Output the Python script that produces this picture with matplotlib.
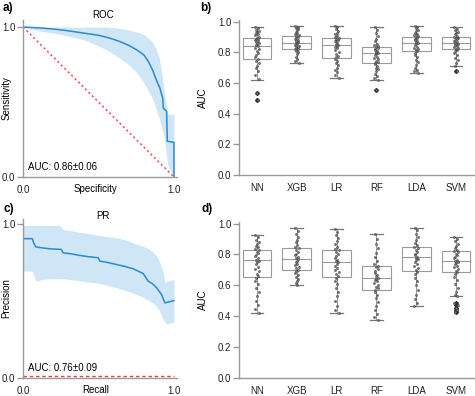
import matplotlib.pyplot as plt
import numpy as np

plt.rcParams['font.family'] = ['Liberation Sans', 'DejaVu Sans']
plt.rcParams['font.size'] = 7

# ---- ROC (panel a) ----
ROC_X = [0, 0.1, 0.2, 0.3, 0.4, 0.5, 0.55, 0.6, 0.65, 0.7, 0.75, 0.8, 0.83,
         0.86, 0.874, 0.89, 0.907, 0.915, 0.925, 0.929, 0.951, 0.956, 1.0, 1.0]
ROC_Y = [1.0, 0.995, 0.987, 0.975, 0.96, 0.945, 0.933, 0.918, 0.9, 0.878, 0.85,
         0.815, 0.771, 0.71, 0.671, 0.63, 0.593, 0.56, 0.53, 0.46, 0.438, 0.238,
         0.231, 0.0]
ROC_BAND_X = [0, 0.1, 0.2, 0.3, 0.4, 0.5, 0.55, 0.6, 0.65, 0.7, 0.75, 0.8, 0.85,
              0.88, 0.9, 0.915, 0.93, 0.945, 0.955, 0.962, 0.98, 1.0]
ROC_UPPER = [1.0, 1.0, 1.0, 1.0, 1.0, 1.0, 1.0, 0.997, 0.99, 0.98, 0.968, 0.95,
             0.91, 0.86, 0.80, 0.72, 0.62, 0.50, 0.44, 0.418, 0.418, 0.418]
ROC_LOWER = [1.0, 0.975, 0.96, 0.94, 0.916, 0.875, 0.85, 0.82, 0.785, 0.75, 0.70,
             0.63, 0.54, 0.46, 0.40, 0.34, 0.29, 0.19, 0.11, 0.07, 0.04, 0.0]
ROC_AUC = 'AUC: 0.86±0.06'

# ---- PR (panel c) ----
PR_X = [0, 0.062, 0.07, 0.084, 0.12, 0.177, 0.254, 0.265, 0.32, 0.376, 0.43,
        0.498, 0.509, 0.56, 0.619, 0.68, 0.73, 0.796, 0.83, 0.86, 0.885, 0.918,
        0.94, 1.0]
PR_Y = [0.907, 0.907, 0.88, 0.854, 0.848, 0.841, 0.837, 0.815, 0.808, 0.798,
        0.79, 0.783, 0.761, 0.752, 0.739, 0.725, 0.711, 0.680, 0.630, 0.612,
        0.587, 0.543, 0.489, 0.504]
PR_BAND_X = [0, 0.062, 0.084, 0.12, 0.177, 0.243, 0.265, 0.32, 0.398, 0.45,
             0.509, 0.56, 0.619, 0.68, 0.73, 0.78, 0.819, 0.86, 0.885, 0.91,
             0.929, 0.94, 0.951, 1.0]
PR_UPPER = [0.993, 0.993, 0.993, 0.993, 0.993, 0.993, 0.967, 0.958, 0.946, 0.938,
            0.928, 0.92, 0.913, 0.898, 0.88, 0.862, 0.848, 0.822, 0.793, 0.745,
            0.685, 0.624, 0.628, 0.641]
PR_LOWER = [0.696, 0.696, 0.63, 0.64, 0.646, 0.646, 0.646, 0.64, 0.63, 0.622,
            0.615, 0.602, 0.587, 0.57, 0.554, 0.532, 0.511, 0.488, 0.467, 0.425,
            0.380, 0.365, 0.352, 0.363]
PR_BASELINE = 0.012
PR_AUC = 'AUC: 0.76±0.09'

# ---- AUC boxes ----
MODELS = ['NN', 'XGB', 'LR', 'RF', 'LDA', 'SVM']

ROC_MED = [0.841, 0.859, 0.848, 0.798, 0.863, 0.859]
ROC_Q1 = [0.754, 0.822, 0.761, 0.733, 0.809, 0.820]
ROC_Q3 = [0.891, 0.909, 0.891, 0.837, 0.902, 0.896]
ROC_LO = [0.620, 0.728, 0.635, 0.620, 0.667, 0.711]
ROC_HI = [0.967, 0.974, 0.974, 0.967, 0.974, 0.963]
ROC_FLIERS = [[0.533, 0.489], [], [], [0.554], [], [0.678]]

PR_MED = [0.761, 0.772, 0.754, 0.648, 0.783, 0.757]
PR_Q1 = [0.652, 0.700, 0.652, 0.572, 0.691, 0.685]
PR_Q3 = [0.830, 0.843, 0.830, 0.726, 0.848, 0.822]
PR_LO = [0.424, 0.602, 0.420, 0.374, 0.467, 0.528]
PR_HI = [0.924, 0.972, 0.963, 0.930, 0.972, 0.913]
PR_FLIERS = [[], [], [], [], [], [0.485, 0.470, 0.455, 0.440, 0.430]]

# per-fold AUC values (strip points)
NN_ROC = [0.967, 0.955, 0.948, 0.940, 0.932, 0.925, 0.918, 0.910, 0.900, 0.893,
          0.889, 0.884, 0.879, 0.874, 0.868, 0.861, 0.853, 0.845, 0.838, 0.829,
          0.818, 0.806, 0.795, 0.782, 0.770, 0.758, 0.745, 0.728, 0.712, 0.695,
          0.676, 0.651, 0.623, 0.533, 0.489]
XGB_ROC = [0.974, 0.965, 0.958, 0.950, 0.942, 0.933, 0.925, 0.916, 0.910, 0.905,
           0.899, 0.893, 0.887, 0.880, 0.874, 0.868, 0.862, 0.858, 0.853, 0.848,
           0.843, 0.838, 0.833, 0.828, 0.823, 0.818, 0.810, 0.800, 0.788, 0.772,
           0.755, 0.740, 0.728]
LR_ROC = [0.974, 0.962, 0.950, 0.940, 0.928, 0.918, 0.908, 0.900, 0.893, 0.888,
          0.882, 0.876, 0.870, 0.863, 0.856, 0.849, 0.843, 0.835, 0.826, 0.815,
          0.803, 0.790, 0.778, 0.766, 0.757, 0.745, 0.730, 0.715, 0.700, 0.685,
          0.668, 0.650, 0.635]
RF_ROC = [0.967, 0.945, 0.925, 0.905, 0.887, 0.870, 0.855, 0.845, 0.838, 0.832,
          0.825, 0.818, 0.812, 0.806, 0.800, 0.795, 0.789, 0.781, 0.772, 0.763,
          0.754, 0.746, 0.738, 0.731, 0.722, 0.712, 0.700, 0.688, 0.675, 0.660,
          0.645, 0.630, 0.620, 0.554]
LDA_ROC = [0.974, 0.965, 0.955, 0.946, 0.937, 0.928, 0.918, 0.910, 0.903, 0.897,
           0.890, 0.883, 0.877, 0.870, 0.864, 0.860, 0.853, 0.845, 0.837, 0.828,
           0.820, 0.812, 0.805, 0.795, 0.783, 0.768, 0.752, 0.735, 0.718, 0.700,
           0.685, 0.675, 0.667]
SVM_ROC = [0.963, 0.952, 0.943, 0.934, 0.925, 0.916, 0.908, 0.900, 0.895, 0.890,
           0.884, 0.878, 0.872, 0.866, 0.860, 0.856, 0.851, 0.846, 0.840, 0.834,
           0.828, 0.822, 0.816, 0.806, 0.794, 0.780, 0.765, 0.748, 0.730, 0.711,
           0.678]

NN_PR = [0.924, 0.910, 0.895, 0.880, 0.868, 0.856, 0.845, 0.835, 0.826, 0.818,
         0.808, 0.797, 0.787, 0.776, 0.766, 0.758, 0.748, 0.735, 0.720, 0.705,
         0.690, 0.675, 0.662, 0.648, 0.630, 0.610, 0.585, 0.560, 0.530, 0.500,
         0.470, 0.445, 0.424]
XGB_PR = [0.972, 0.950, 0.930, 0.912, 0.895, 0.878, 0.862, 0.850, 0.840, 0.830,
          0.818, 0.806, 0.795, 0.785, 0.776, 0.768, 0.760, 0.750, 0.740, 0.730,
          0.720, 0.710, 0.700, 0.692, 0.680, 0.668, 0.655, 0.640, 0.625, 0.612,
          0.602]
LR_PR = [0.963, 0.945, 0.925, 0.905, 0.885, 0.865, 0.848, 0.835, 0.826, 0.815,
         0.803, 0.790, 0.778, 0.766, 0.757, 0.750, 0.740, 0.728, 0.714, 0.700,
         0.686, 0.672, 0.660, 0.648, 0.630, 0.608, 0.585, 0.560, 0.530, 0.500,
         0.468, 0.440, 0.420]
RF_PR = [0.930, 0.900, 0.870, 0.840, 0.810, 0.785, 0.760, 0.740, 0.728, 0.718,
         0.706, 0.694, 0.682, 0.670, 0.658, 0.650, 0.644, 0.636, 0.626, 0.615,
         0.603, 0.592, 0.582, 0.572, 0.560, 0.540, 0.515, 0.490, 0.465, 0.440,
         0.415, 0.395, 0.374]
LDA_PR = [0.972, 0.955, 0.935, 0.915, 0.895, 0.877, 0.862, 0.850, 0.840, 0.830,
          0.818, 0.806, 0.795, 0.786, 0.780, 0.772, 0.762, 0.750, 0.738, 0.724,
          0.710, 0.698, 0.688, 0.672, 0.650, 0.625, 0.600, 0.570, 0.540, 0.510,
          0.485, 0.467]
SVM_PR = [0.913, 0.900, 0.885, 0.870, 0.855, 0.842, 0.830, 0.822, 0.815, 0.806,
          0.796, 0.786, 0.776, 0.766, 0.759, 0.754, 0.746, 0.737, 0.727, 0.716,
          0.705, 0.694, 0.685, 0.672, 0.655, 0.635, 0.610, 0.585, 0.560, 0.540,
          0.528, 0.485, 0.470, 0.455, 0.440, 0.430]

# small fixed horizontal offsets for the strip points
JITTER = [-0.04, 0.02, -0.015, 0.04, 0.0, -0.03, 0.015, -0.05, 0.05, -0.01, 0.03, -0.025]

LINE_C = '#2a8ad0'
BAND_C = '#c9e4f4'
RED_C = '#e8413c'
GREY = '#9a9a9a'


def style_axes(ax):
    for side in ('top', 'right'):
        ax.spines[side].set_visible(False)
    for side in ('left', 'bottom'):
        ax.spines[side].set_color(GREY)
        ax.spines[side].set_linewidth(1.0)
    ax.tick_params(colors=GREY, labelcolor='#222222', length=4, width=1.0, pad=1.5)


def curve_panel(ax, x, y, bx, lo, hi, title, title_y, xlabel, ylabel, auc):
    ax.fill_between(bx, lo, hi, color=BAND_C, lw=0, alpha=0.9)
    ax.plot(x, y, color=LINE_C, lw=1.1)
    ax.set_xlim(0, 1.02)
    ax.set_xticks([0, 1])
    ax.set_yticks([0, 1])
    ax.set_xticklabels(['0.0', '1.0'])
    ax.set_yticklabels(['0.0', '1.0'])
    style_axes(ax)
    ax.tick_params(axis='x', length=0, pad=5.5)
    ax.set_xlabel(xlabel)
    ax.xaxis.set_label_coords(0.47, -0.045)
    ax.set_ylabel(ylabel)
    ax.yaxis.set_label_coords(-0.075, 0.5)
    ax.text(0.033, 0.067, auc, ha='left', va='center')
    ax.text(0.52, title_y, title, transform=ax.transAxes, ha='center', va='center')


def box_panel(ax, med, q1, q3, lo, hi, fliers, points):
    stats = []
    for i in range(len(MODELS)):
        stats.append(dict(med=med[i], q1=q1[i], q3=q3[i], whislo=lo[i],
                          whishi=hi[i], fliers=fliers[i]))
    pos = np.arange(len(MODELS))
    ax.bxp(stats, positions=pos, widths=0.72, capwidths=0.32, showfliers=True,
           patch_artist=True,
           boxprops=dict(facecolor='white', edgecolor=GREY, lw=0.8),
           medianprops=dict(color=GREY, lw=0.8),
           whiskerprops=dict(color=GREY, lw=0.8),
           capprops=dict(color='#777777', lw=0.9),
           flierprops=dict(marker='D', markersize=2.0, markerfacecolor='#333333',
                           markeredgecolor='#333333'))
    for i, vals in enumerate(points):
        xs = [pos[i] + JITTER[k % len(JITTER)] for k in range(len(vals))]
        ax.scatter(xs, vals, s=2.5, facecolors='#777777', edgecolors='#333333',
                   linewidths=0.3, zorder=3)
    ax.set_xlim(-0.45, 5.45)
    ax.set_ylim(0, 1.01)
    ax.set_yticks([0, 0.2, 0.4, 0.6, 0.8, 1.0])
    ax.set_yticklabels(['0.0', '0.2', '0.4', '0.6', '0.8', '1.0'])
    ax.set_xticks(pos)
    ax.set_xticklabels(MODELS)
    style_axes(ax)
    ax.tick_params(axis='x', length=0, pad=6)
    ax.set_ylabel('AUC')
    ax.yaxis.set_label_coords(-0.13, 0.5)


fig = plt.figure(figsize=(4.75, 3.96), dpi=100)
W, H = 475.0, 396.0

ax_a = fig.add_axes([23 / W, 1 - 177 / H, 154 / W, 157 / H])
curve_panel(ax_a, ROC_X, ROC_Y, ROC_BAND_X, ROC_LOWER, ROC_UPPER,
            'ROC', 1.032, 'Specificity', 'Sensitivity', ROC_AUC)
ax_a.plot([0, 1], [1, 0], color=RED_C, lw=1.0, ls=(0, (1.5, 2)))
ax_a.set_ylim(0, 1.047)

ax_c = fig.add_axes([23 / W, 1 - 378 / H, 154 / W, 159 / H])
curve_panel(ax_c, PR_X, PR_Y, PR_BAND_X, PR_LOWER, PR_UPPER,
            'PR', 1.019, 'Recall', 'Precision', PR_AUC)
ax_c.plot([0, 1], [PR_BASELINE, PR_BASELINE], color=RED_C, lw=1.0, ls=(0, (2.5, 2)))
ax_c.set_ylim(0, 1.035)

ax_b = fig.add_axes([239 / W, 1 - 175 / H, 235 / W, 155 / H])
box_panel(ax_b, ROC_MED, ROC_Q1, ROC_Q3, ROC_LO, ROC_HI, ROC_FLIERS,
          [NN_ROC, XGB_ROC, LR_ROC, RF_ROC, LDA_ROC, SVM_ROC])

ax_d = fig.add_axes([239 / W, 1 - 378 / H, 235 / W, 156 / H])
box_panel(ax_d, PR_MED, PR_Q1, PR_Q3, PR_LO, PR_HI, PR_FLIERS,
          [NN_PR, XGB_PR, LR_PR, RF_PR, LDA_PR, SVM_PR])

for lab, x, y in [('a)', 3, 8), ('b)', 200, 8), ('c)', 3, 209), ('d)', 202, 209)]:
    fig.text(x / W, 1 - y / H, lab, fontsize=8.5, fontweight='bold',
             ha='left', va='center')

fig.savefig('out.png', dpi=100)
